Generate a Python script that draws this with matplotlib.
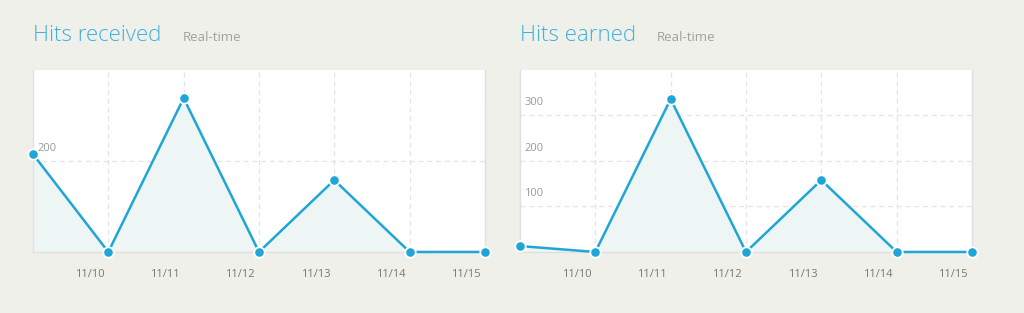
import matplotlib.pyplot as plt
import matplotlib.transforms as mtransforms

dates = ["11/09", "11/10", "11/11", "11/12", "11/13", "11/14", "11/15"]
received = [215, 0, 338, 0, 158, 0, 0]
earned = [13, 0, 336, 0, 158, 0, 0]
received_ticks = [200]
earned_ticks = [100, 200, 300]

BG = "#f0f0eb"
LINE = "#1fa6d6"
FILL = "#edf6f4"
GRID = "#e4e4e4"

plt.rcParams["font.family"] = ["Open Sans", "DejaVu Sans"]

fig = plt.figure(figsize=(10.24, 3.13), dpi=100, facecolor=BG)


def draw_panel(left, title, values, yticks):
    ax = fig.add_axes([left, 0.195, 0.4414, 0.5815])
    ax.set_facecolor("white")
    xs = list(range(len(values)))
    ax.fill_between(xs, values, 0, color=FILL, zorder=1)
    ax.plot(xs, values, color=LINE, lw=1.8, zorder=3, clip_on=False,
            marker="o", markersize=7.5, markerfacecolor=LINE,
            markeredgecolor="white", markeredgewidth=1.3)
    ax.set_xlim(0, len(values) - 1)
    ax.set_ylim(0, 400)

    ax.set_xticks(xs[1:])
    ax.set_xticklabels(dates[1:])
    ax.set_yticks(yticks)
    ax.set_yticklabels([])
    ax.tick_params(length=0, colors="#777777", labelsize=8)
    ax.tick_params(axis="x", pad=12)
    off = mtransforms.ScaledTranslation(-4 / 100, 0, fig.dpi_scale_trans)
    for lbl in ax.get_xticklabels():
        lbl.set_ha("right")
        lbl.set_transform(lbl.get_transform() + off)

    ax.grid(True, color=GRID, ls=(0, (4, 3)), lw=0.9, zorder=0)
    ax.set_axisbelow(True)
    for side in ["left", "bottom", "right"]:
        ax.spines[side].set_color("#e0e0e0")
        ax.spines[side].set_linewidth(1)
    ax.spines["top"].set_visible(False)

    trans = mtransforms.blended_transform_factory(ax.transAxes, ax.transData)
    for t in yticks:
        ax.text(0.01, t + 28, str(t), transform=trans, fontsize=8,
                color="#9a9a9a", va="center", ha="left", zorder=4)

    fig.text(left, 0.885, title, fontsize=16, color="#3fb0df",
             fontweight="light", va="center", ha="left")
    return ax


ax1 = draw_panel(0.0322, "Hits received", received, received_ticks)
ax2 = draw_panel(0.5078, "Hits earned", earned, earned_ticks)
fig.text(0.178, 0.88, "Real-time", fontsize=9.5, color="#a0a0a0", va="center")
fig.text(0.641, 0.88, "Real-time", fontsize=9.5, color="#a0a0a0", va="center")

fig.savefig("out.png", dpi=100, facecolor=BG)
